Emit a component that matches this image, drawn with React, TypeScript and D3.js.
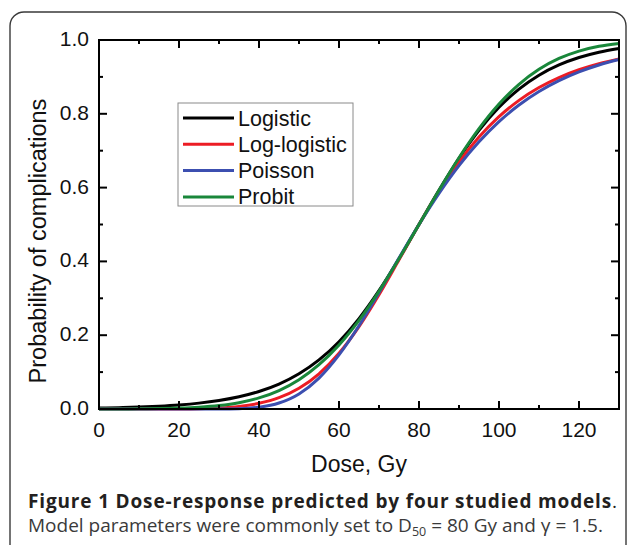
import React from 'react';
import * as d3 from 'd3';

const doses = [0, 5, 10, 15, 20, 25, 30, 35, 40, 45, 50, 55, 60, 65, 70, 75, 80, 85, 90, 95, 100, 105, 110, 115, 120, 125, 130];

const logistic = [0.0025, 0.0036, 0.0052, 0.0076, 0.011, 0.0159, 0.023, 0.0331, 0.0474, 0.0675, 0.0954, 0.133, 0.1824, 0.2451, 0.3208, 0.4073, 0.5, 0.5927, 0.6792, 0.7549, 0.8176, 0.867, 0.9047, 0.9325, 0.9526, 0.9669, 0.977];
const logLogistic = [0, 0, 0, 0, 0.0002, 0.0009, 0.0028, 0.007, 0.0154, 0.0307, 0.0563, 0.0955, 0.1511, 0.2234, 0.3098, 0.4044, 0.5, 0.5899, 0.6697, 0.7371, 0.7923, 0.8364, 0.8711, 0.8982, 0.9193, 0.9357, 0.9485];
const poisson = [0, 0, 0, 0, 0, 0, 0.0001, 0.001, 0.0049, 0.0162, 0.0408, 0.0837, 0.1465, 0.2255, 0.3153, 0.4092, 0.5, 0.5842, 0.6595, 0.724, 0.7788, 0.8238, 0.8605, 0.8899, 0.9137, 0.9324, 0.9472];
const probit = [0.0001, 0.0002, 0.0005, 0.0011, 0.0024, 0.0049, 0.0094, 0.0172, 0.0301, 0.05, 0.0793, 0.12, 0.1736, 0.2404, 0.3192, 0.4071, 0.5, 0.5929, 0.6808, 0.7596, 0.8264, 0.88, 0.9207, 0.95, 0.9699, 0.9828, 0.9906];

const seriesNames = ['Logistic', 'Log-logistic', 'Poisson', 'Probit'];
const seriesValues = [logistic, logLogistic, poisson, probit];

const xTicks = [0, 20, 40, 60, 80, 100, 120];
const xMinorTicks = [10, 30, 50, 70, 90, 110];
const yTicks = [0, 0.2, 0.4, 0.6, 0.8, 1.0];
const yMinorTicks = [0.1, 0.3, 0.5, 0.7, 0.9];

const colors = ['#000000', '#ec1c24', '#3c4fb0', '#19873a'];

const W = 627;
const H = 545;
const margin = { left: 99, right: 8, top: 40, bottom: 136 };
const axisFont = 'Arial, "Liberation Sans", Helvetica, sans-serif';
const capFont = '"Open Sans", "Noto Sans", sans-serif';

export default function App() {
  const x = d3.scaleLinear().domain([0, 130]).range([margin.left, W - margin.right]);
  const y = d3.scaleLinear().domain([0, 1]).range([H - margin.bottom, margin.top]);

  const line = d3.line<number>()
    .x((d, i) => x(doses[i]))
    .y(d => y(d))
    .curve(d3.curveMonotoneX);

  const [x0, x1] = x.range();
  const [y0, y1] = y.range();
  const major = 8;
  const minor = 4;

  const legendX = 178;
  const legendY = 103;
  const rowH = 26.3;

  return (
    <svg width={W} height={H} style={{ position: 'absolute', left: 0, top: 0, background: '#fff' }}>
      {/* figure frame */}
      <rect x={10} y={12} width={616} height={H + 40} rx={14} fill="none" stroke="#3a3a3a" strokeWidth={1.4} />

      {/* curves */}
      {seriesValues.map((vals, i) => (
        <path key={seriesNames[i]} d={line(vals) || ''} fill="none" stroke={colors[i]} strokeWidth={3} strokeLinejoin="round" />
      ))}

      {/* plot box */}
      <rect x={x0} y={y1} width={x1 - x0} height={y0 - y1} fill="none" stroke="#000" strokeWidth={2} />

      {/* x ticks, bottom and top */}
      {xTicks.map(t => (
        <g key={'xt' + t}>
          <line x1={x(t)} x2={x(t)} y1={y0} y2={y0 - major} stroke="#000" strokeWidth={2} />
          <line x1={x(t)} x2={x(t)} y1={y1} y2={y1 + major} stroke="#000" strokeWidth={2} />
          <text x={x(t)} y={y0 + 28} textAnchor="middle" fontFamily={axisFont} fontSize={21} fill="#111">{t}</text>
        </g>
      ))}
      {xMinorTicks.map(t => (
        <g key={'xm' + t}>
          <line x1={x(t)} x2={x(t)} y1={y0} y2={y0 - minor} stroke="#000" strokeWidth={2} />
          <line x1={x(t)} x2={x(t)} y1={y1} y2={y1 + minor} stroke="#000" strokeWidth={2} />
        </g>
      ))}

      {/* y ticks, left and right */}
      {yTicks.map(t => (
        <g key={'yt' + t}>
          <line x1={x0} x2={x0 + major} y1={y(t)} y2={y(t)} stroke="#000" strokeWidth={2} />
          <line x1={x1} x2={x1 - major} y1={y(t)} y2={y(t)} stroke="#000" strokeWidth={2} />
          <text x={x0 - 10} y={y(t) + 6} textAnchor="end" fontFamily={axisFont} fontSize={21} fill="#111">{t.toFixed(1)}</text>
        </g>
      ))}
      {yMinorTicks.map(t => (
        <g key={'ym' + t}>
          <line x1={x0} x2={x0 + minor} y1={y(t)} y2={y(t)} stroke="#000" strokeWidth={2} />
          <line x1={x1} x2={x1 - minor} y1={y(t)} y2={y(t)} stroke="#000" strokeWidth={2} />
        </g>
      ))}

      {/* axis titles */}
      <text x={(x0 + x1) / 2} y={472} textAnchor="middle" fontFamily={axisFont} fontSize={23} fill="#111">Dose, Gy</text>
      <text transform="translate(46,241) rotate(-90)" textAnchor="middle" fontFamily={axisFont} fontSize={23.5} fill="#111">Probability of complications</text>

      {/* legend */}
      <rect x={legendX} y={legendY} width={175} height={103} fill="#fff" stroke="#8a8a8a" strokeWidth={1} />
      {seriesNames.map((name, i) => {
        const cy = legendY + 15 + i * rowH;
        return (
          <g key={'lg' + name}>
            <line x1={legendX + 5} x2={legendX + 56} y1={cy} y2={cy} stroke={colors[i]} strokeWidth={3} />
            <text x={legendX + 60} y={cy + 7.5} fontFamily={axisFont} fontSize={21.5} fill="#111">{name}</text>
          </g>
        );
      })}

      {/* caption */}
      <text x={28} y={508} fontFamily={capFont} fontSize={19} fill="#231f20" textLength={589} lengthAdjust="spacing">
        <tspan fontWeight="bold">Figure 1 Dose-response predicted by four studied models</tspan>
        <tspan>.</tspan>
      </text>
      <text x={28} y={532} fontFamily={capFont} fontSize={19} fill="#3a3a3a" textLength={575} lengthAdjust="spacing">
        Model parameters were commonly set to D<tspan fontSize={12.5} dy={4}>50</tspan><tspan dy={-4}> = 80 Gy and γ = 1.5.</tspan>
      </text>
    </svg>
  );
}
